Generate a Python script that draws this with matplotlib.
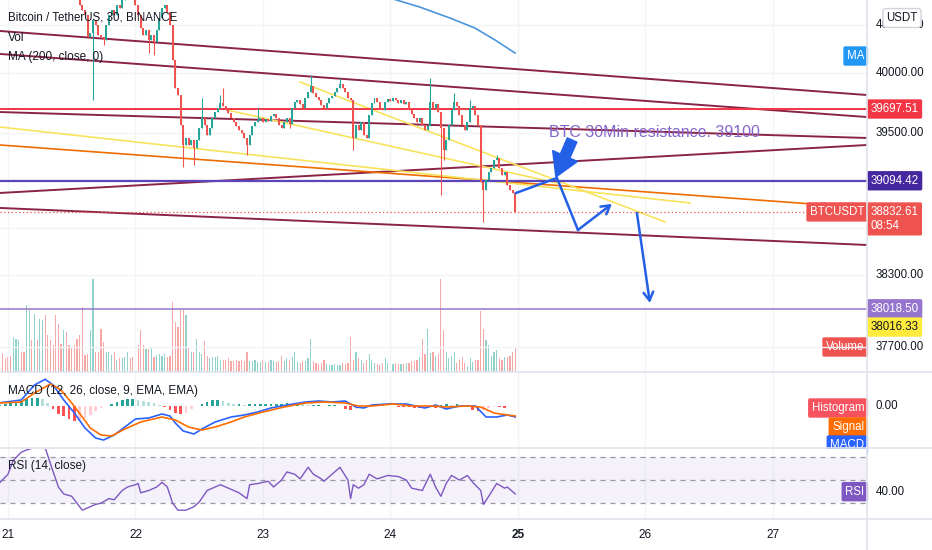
import numpy as np
import matplotlib.pyplot as plt
from matplotlib.lines import Line2D
from matplotlib.patches import Rectangle
import matplotlib.transforms as mtransforms

plt.rcParams['font.family'] = ['Liberation Sans', 'DejaVu Sans']

W, H = 932, 550
PX = 2.656          # pixels per 30 min bar
XMAX = 867 / PX     # right edge of the panes, in bars

# ---------------- data ----------------
# 30 min closes, bar 0 = 20th 22:30, last bar = 24th 23:30
closes = [
    40780, 40760, 40740, 40730, 40700, 40740, 40770, 40800, 40780, 40770,
    40810, 40850, 40830, 40870, 40860, 40890, 40910, 40870, 40850, 40840,
    40820, 40770, 40750, 40740, 40770, 40750, 40720, 40690, 40660, 40640,
    40571, 40529, 40487, 40300, 40340, 40445, 40403, 40319, 40300, 40277,
    40403, 40487, 40529, 40487, 40571, 40546, 40613, 40655, 40680, 40655,
    40638, 40571, 40487, 40378, 40319, 40361, 40277, 40319, 40260, 40361,
    40462, 40546, 40571, 40512, 40403, 40109, 39874, 39815, 39563, 39395,
    39454, 39395, 39437, 39370, 39437, 39538, 39622, 39563, 39479, 39538,
    39622, 39672, 39706, 39748, 39723, 39689, 39664, 39622, 39588, 39555,
    39521, 39496, 39454, 39395, 39479, 39555, 39588, 39605, 39622, 39588,
    39614, 39597, 39639, 39656, 39622, 39563, 39538, 39588, 39622, 39572,
    39706, 39756, 39773, 39740, 39706, 39790, 39840, 39891, 39832, 39798,
    39773, 39731, 39706, 39748, 39790, 39807, 39840, 39874, 39908, 39874,
    39840, 39790, 39773, 39454, 39563, 39521, 39588, 39479, 39454, 39647,
    39748, 39790, 39756, 39706, 39689, 39756, 39782, 39765, 39790, 39773,
    39748, 39773, 39740, 39756, 39689, 39656, 39622, 39588, 39622, 39563,
    39521, 39555, 39756, 39706, 39740, 39672, 39538, 39353, 39437, 39563,
    39689, 39756, 39723, 39647, 39563, 39521, 39588, 39706, 39723, 39647,
    39563, 39084, 39017, 39101, 39168, 39202, 39269, 39286, 39202, 39143,
    39168, 39059, 39017, 38992, 38833,
]
# long wicks
hi_idx = [76, 83, 84, 97, 117, 128, 162, 171, 177, 187]
hi_val = [39790, 39815, 39874, 39706, 39983, 39958, 39958, 39832, 39773, 39311]
lo_idx = [35, 39, 56, 58, 69, 73, 93, 109, 133, 166, 167, 182]
lo_val = [39773, 40235, 40168, 40151, 39210, 39227, 39311, 39538, 39353, 38975, 39269, 38748]

# volume (BTC), starting at bar 1
volumes = [v * 25 for v in [
    19, 14, 15, 16, 35, 33, 32, 20, 20, 67, 62, 32, 58, 32, 53, 52, 57, 37, 32, 27,
    57, 48, 28, 42, 40, 27, 25, 27, 33, 37, 65, 17, 18, 42, 93, 20, 20, 43, 30, 20,
    20, 17, 20, 12, 14, 14, 15, 20, 14, 15, 15, 27, 42, 27, 23, 23, 25, 15, 17, 18,
    16, 18, 15, 16, 70, 50, 45, 62, 62, 57, 25, 20, 20, 33, 20, 18, 31, 16, 14, 15,
    15, 16, 12, 12, 12, 14, 11, 11, 12, 11, 12, 11, 20, 11, 11, 12, 10, 10, 12, 10,
    10, 12, 11, 10, 11, 16, 11, 14, 12, 15, 20, 10, 9, 11, 11, 14, 33, 11, 9, 8,
    9, 12, 8, 7, 7, 8, 7, 7, 9, 8, 9, 35, 12, 20, 14, 12, 9, 12, 18, 12,
    9, 8, 7, 9, 14, 9, 9, 8, 9, 8, 8, 8, 9, 9, 11, 11, 12, 15, 33, 18,
    43, 19, 20, 16, 18, 93, 42, 20, 14, 16, 20, 9, 12, 15, 9, 6, 14, 10, 12, 12,
    61, 43, 32, 27, 16, 20, 22, 14, 12, 15, 15, 16, 20, 25]]

# MA(200) visible part
ma_idx = [146.8, 158.1, 169.4, 178.8, 186.4, 193.9]
ma_val = [40630, 40554, 40462, 40378, 40277, 40168]

# MACD
macd_idx = [0, 8, 13, 17, 20, 24, 28, 32, 36, 39, 43, 47, 51, 56, 61, 64, 66, 69, 73, 76,
            81, 87, 92, 97, 102, 108, 115, 120, 125, 130, 134, 137, 140, 146, 153, 160,
            164, 168, 173, 179, 183, 187, 191, 194]
macd_val = [13, 24, 84, 107, 84, 24, -28, -88, -128, -136, -116, -84, -52, -48, -32, -40,
            -68, -100, -112, -92, -64, -44, -36, -24, -8, 4, 16, 20, 16, 20, -4, -8, 4, 8,
            8, -8, 4, -12, 0, 0, -44, -44, -36, -44]
sig_idx = [0, 8, 13, 19, 23, 27, 31, 34, 38, 42, 47, 53, 61, 66, 71, 76, 81, 87, 92, 99,
           107, 115, 122, 130, 135, 140, 148, 155, 163, 168, 176, 181, 186, 191, 194]
sig_val = [12, 16, 52, 88, 64, 12, -44, -88, -116, -120, -92, -64, -44, -56, -84, -96,
           -84, -64, -44, -24, -4, 12, 16, 12, 0, 0, 8, 0, 0, -4, 0, -4, -28, -36, -40]
# histogram, one value every 2 bars
hist_val = [v * 4 for v in [
    1, 2, 3, 3, 5, 7, 8, 8, 7, 3, -3, -8, -10, -13, -15, -14, -12, -9, -5, -2,
    0, 2, 4, 6, 7, 7, 6, 5, 4, 3, 1, -1, -4, -7, -8, -7, -3, 0, 2, 4,
    6, 6, 5, 3, 2, 2, 1, 2, 2, 2, 2, 2, 2, 2, 3, 2, 3, 2, 1, 1,
    1, 0, 1, 1, 0, -3, -4, -3, -1, 0, 1, 1, 1, 0, 0, -1, -1, -1, -2, -2,
    -1, 0, -2, 1, 2, 1, 2, 1, 0, -4, -5, -4, -2, -1, -1, -2]]

# RSI(14)
rsi_idx = [0, 3, 5, 8, 10, 13, 15, 17, 19, 22, 24, 27, 29, 31, 33, 36, 38, 41, 43, 46,
           48, 51, 52, 53, 56, 59, 61, 63, 65, 67, 70, 73, 75, 78, 80, 83, 85, 88, 90, 93,
           94, 97, 101, 103, 106, 108, 111, 113, 116, 118, 121, 122, 125, 128, 131, 132, 133,
           135, 137, 139, 142, 146, 150, 153, 155, 159, 162, 164, 166, 168, 170, 173, 176,
           178, 181, 182, 184, 187, 190, 191, 194]
rsi_val = [48, 55, 67, 74, 76, 78, 79, 78, 64, 44, 38, 36, 30, 24, 26, 29, 30, 34, 33, 41,
           44, 46, 47, 39, 41, 44, 48, 44, 30, 24, 24, 27, 31, 41, 43, 46, 44, 41, 39, 34,
           46, 47, 49, 44, 50, 57, 55, 51, 61, 55, 51, 49, 55, 61, 50, 34, 46,
           43, 46, 55, 51, 54, 53, 50, 43, 41, 55, 44, 36, 47, 54, 50, 54,
           48, 41, 29, 36, 47, 43, 44, 38]

days = ['21', '22', '23', '24', '25', '26', '27']
day_bar = [3 + 48 * k for k in range(len(days))]
price_ticks = [40400, 40000, 39500, 38300, 37700]
grid_prices = [40400, 40000, 39500, 39100, 38700, 38300, 37700]

# drawings: (bar0, price0, bar1, price1)
maroon_lines = [(0, 40353, XMAX, 39815), (0, 40160, XMAX, 39630), (0, 39672, XMAX, 39454),
                (0, 38992, XMAX, 39395), (0, 38866, XMAX, 38555)]
orange_line = (0, 39395, XMAX, 38866)
yellow_lines = [(0, 39546, 259.8, 38908), (113, 39924, 250.4, 38748), (85.5, 39689, 209.7, 39076)]
path_x = [194.3, 209.7, 217.6, 230.4]
path_y = [38992, 39118, 38681, 38900]
drop_arrow = (239.8, 38824, 244.7, 38068)
fat_arrow = (215.4, 39437, 209.3, 39126)
level_red, level_purple, level_lilac, last_price = 39697.51, 39094.42, 38018.50, 38832.61

# ---------------- colours ----------------
UP, DOWN = '#26a69a', '#ef5350'
MAROON, RED, ORANGE, YELLOW = '#8b2346', '#f23645', '#ef6c00', '#f7e35c'
PURPLE, LILAC, BLUE = '#5b45b8', '#9575cd', '#2460e6'
TXT, SEP, GRID = '#131722', '#e0e3eb', '#f2f4f8'

# ---------------- figure ----------------
fig = plt.figure(figsize=(W / 100, H / 100), dpi=100)


def rect(x0, y0, x1, y1):
    return [x0 / W, 1 - y1 / H, (x1 - x0) / W, (y1 - y0) / H]


P_TOP = 40000 + 73 * 8.403
P_BOT = 40000 - 299 * 8.403

axv = fig.add_axes(rect(0, 0, 867, 372))
ax = fig.add_axes(rect(0, 0, 867, 372))
axm = fig.add_axes(rect(0, 373, 867, 448))
axr = fig.add_axes(rect(0, 449, 867, 519))
axv.set_zorder(1); ax.set_zorder(2); axm.set_zorder(3); axr.set_zorder(4)
for a in (axv, ax, axm, axr):
    a.set_xlim(0, XMAX)
    a.set_axis_off()
ax.set_ylim(P_BOT, P_TOP)
axv.set_ylim(0, 372 * 25)
axm.set_ylim(-168, 132)
axr.set_ylim(16.4, 76.8)

# white backing for the RSI pane so MACD tags get cut at the separator
fig.add_artist(Rectangle((0, 31 / H), 867 / W, 70 / H, transform=fig.transFigure,
                         fc='white', ec='none', zorder=3.5))

# grid
for p in grid_prices:
    ax.axhline(p, color=GRID, lw=1, zorder=0)
for a in (ax, axm, axr):
    for b in day_bar:
        a.axvline(b, color=GRID, lw=1, zorder=0)

# candles
c = np.array(closes, dtype=float)
o = np.r_[c[0], c[:-1]]
hi = np.maximum(o, c)
lo = np.minimum(o, c)
hi[hi_idx] = hi_val
lo[lo_idx] = lo_val
idx = np.arange(len(c))
col = np.where(c >= o, UP, DOWN)
ax.vlines(idx, lo, hi, colors=col, lw=0.8, zorder=5)
ax.bar(idx, np.maximum(np.abs(c - o), 7), bottom=np.minimum(o, c),
       width=0.75, color=col, zorder=6)

# volume
vb = np.arange(1, len(volumes) + 1)
axv.bar(vb, volumes, width=0.45, color=col[vb], alpha=0.5)

# drawings
for x0, p0, x1, p1 in maroon_lines:
    ax.plot([x0, x1], [p0, p1], color=MAROON, lw=1.4, zorder=3)
ax.plot(orange_line[::2], orange_line[1::2], color=ORANGE, lw=1.2, zorder=3)
for x0, p0, x1, p1 in yellow_lines:
    ax.plot([x0, x1], [p0, p1], color=YELLOW, lw=1.2, zorder=3)
ax.axhline(level_red, color=RED, lw=1.4, zorder=3)
ax.axhline(level_purple, color=PURPLE, lw=1.6, zorder=3)
ax.axhline(level_lilac, color=LILAC, lw=1.1, zorder=3)
ax.axhline(last_price, color=DOWN, lw=0.9, ls=(0, (1, 2)), zorder=3)
ax.plot(ma_idx, ma_val, color='#4a95dc', lw=1.2, zorder=4)

ax.plot(path_x[:-1], path_y[:-1], color=BLUE, lw=1.8, zorder=7, solid_joinstyle='miter')
ax.annotate('', xy=(path_x[-1], path_y[-1]), xytext=(path_x[-2], path_y[-2]),
            arrowprops=dict(arrowstyle='->,head_length=0.6,head_width=0.35', color=BLUE,
                            lw=1.8, shrinkA=0, shrinkB=0), zorder=7)
ax.annotate('', xy=drop_arrow[2:], xytext=drop_arrow[:2],
            arrowprops=dict(arrowstyle='->,head_length=0.6,head_width=0.35', color=BLUE,
                            lw=1.8, shrinkA=0, shrinkB=0), zorder=7)
ax.annotate('', xy=fat_arrow[2:], xytext=fat_arrow[:2],
            arrowprops=dict(arrowstyle='simple,head_length=1.1,head_width=1.3,tail_width=0.5',
                            fc=BLUE, ec=BLUE, mutation_scale=15, shrinkA=0, shrinkB=0), zorder=7)
ax.text(206.7, 39496, 'BTC 30Min resistance. 39100', color='#8466c9', fontsize=11.5,
        va='center', ha='left', zorder=8)

# MACD pane
hb = np.arange(len(hist_val)) * 2
hv = np.array(hist_val, dtype=float)
prev = np.r_[hv[0], hv[:-1]]
hcol = np.where(hv >= 0, np.where(hv >= prev, '#26a69a', '#b2dfdb'),
                np.where(hv <= prev, '#ff5252', '#ffcdd2'))
axm.bar(hb, hv, width=1.0, color=hcol)
axm.plot(macd_idx, macd_val, color='#2962ff', lw=1.2)
axm.plot(sig_idx, sig_val, color='#ff6d00', lw=1.2)

# RSI pane
axr.axhspan(30, 70, color='#7e57c2', alpha=0.08, lw=0)
for lvl in (70, 50, 30):
    axr.axhline(lvl, color='#9598a1', lw=0.9, ls=(0, (4, 4)))
axr.plot(rsi_idx, rsi_val, color='#7e57c2', lw=1.0)

# separators
for y in (372, 448, 519):
    fig.add_artist(Line2D([0, 1], [1 - y / H] * 2, color=SEP, lw=1.2, zorder=20))
fig.add_artist(Line2D([867 / W] * 2, [0, 1], color=SEP, lw=1.2, zorder=20))

# right scale
ty = ax.get_yaxis_transform()
for p in price_ticks:
    ax.text(1.010, p, f'{p:.2f}', transform=ty, va='center', ha='left', fontsize=8.3,
            color=TXT, clip_on=False, zorder=9)


def tag(axis, yval, text, fc, tc='white', side='right', dy=0, size=8.3):
    tr = axis.get_yaxis_transform()
    off = mtransforms.offset_copy(tr, fig=fig, y=dy, units='dots')
    if side == 'right':
        x, ha = 1.004, 'left'
    else:
        x, ha = 0.997, 'right'
    axis.text(x, yval, text, transform=off, va='center', ha=ha, fontsize=size, color=tc,
              clip_on=False, zorder=12,
              bbox=dict(boxstyle='round,pad=0.32,rounding_size=0.15', fc=fc, ec='none'))


tag(ax, level_red, f'{level_red:.2f}', RED)
tag(ax, level_purple, f'{level_purple:.2f}', '#4527a0')
tag(ax, level_lilac, f'{level_lilac:.2f}', LILAC)
tag(ax, 38016.33, '38016.33', '#ffeb3b', tc=TXT, dy=-18)
tag(ax, last_price, '38832.61\n08:54', DOWN, dy=-7)
tag(ax, last_price, 'BTCUSDT', DOWN, side='left')
tag(ax, ma_val[-1], 'MA', '#2196f3', side='left', dy=-3)
tag(axv, volumes[-1], 'Volume', DOWN, side='left')
tag(axm, hist_val[-1], 'Histogram', '#f7525f', side='left')
tag(axm, hist_val[-1], 'Signal', '#ff6d00', side='left', dy=-19)
tag(axm, hist_val[-1], 'MACD', '#2962ff', side='left', dy=-37)
axm.text(1.010, 0, '0.00', transform=axm.get_yaxis_transform(), va='center', ha='left',
         fontsize=8.3, color=TXT, clip_on=False)
tag(axr, 40, 'RSI', '#7e57c2', side='left')
axr.text(1.010, 40, '40.00', transform=axr.get_yaxis_transform(), va='center', ha='left',
         fontsize=8.3, color=TXT, clip_on=False)
fig.text(902 / W, 1 - 18 / H, 'USDT', ha='center', va='center', fontsize=8.3, color=TXT,
         zorder=30, bbox=dict(boxstyle='round,pad=0.3', fc='white', ec='#d1d4dc'))

# legends
fig.text(8 / W, 1 - 18 / H, 'Bitcoin / TetherUS, 30, BINANCE', fontsize=8.3, color=TXT,
         va='center', zorder=30)
fig.text(8 / W, 1 - 38 / H, 'Vol', fontsize=8.5, color=TXT, va='center', zorder=30)
fig.text(8 / W, 1 - 57 / H, 'MA (200, close, 0)', fontsize=8.5, color=TXT, va='center', zorder=30)
fig.text(8 / W, 1 - 391 / H, 'MACD (12, 26, close, 9, EMA, EMA)', fontsize=8.5, color=TXT,
         va='center', zorder=30)
fig.text(8 / W, 1 - 466 / H, 'RSI (14, close)', fontsize=8.5, color=TXT, va='center', zorder=30)

# time axis
for b, d in zip(day_bar, days):
    fig.text(b * PX / W, 1 - 535 / H, d, ha='center', va='center', fontsize=8.5, color=TXT,
             fontweight='bold' if d == '25' else 'normal', zorder=30)

fig.savefig('out.png', dpi=100)
